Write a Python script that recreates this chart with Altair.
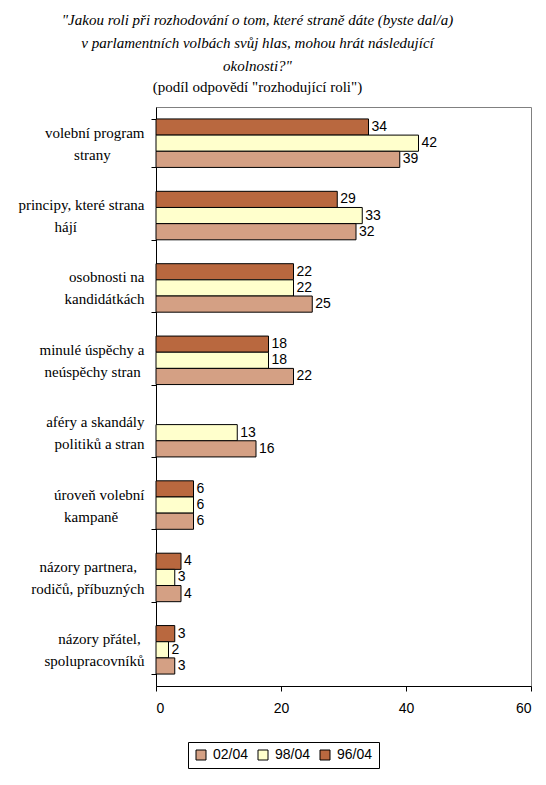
import altair as alt
import pandas as pd

categories = [
    "volební program|strany",
    "principy, které strana|hájí",
    "osobnosti na|kandidátkách",
    "minulé úspěchy a|neúspěchy stran",
    "aféry a skandály|politiků a stran",
    "úroveň volební|kampaně",
    "názory partnera,|rodičů, příbuzných",
    "názory přátel,|spolupracovníků",
]
v96 = [34, 29, 22, 18, None, 6, 4, 3]
v98 = [42, 33, 22, 18, 13, 6, 3, 2]
v02 = [39, 32, 25, 22, 16, 6, 4, 3]

legend_order = ["02/04", "98/04", "96/04"]
bar_order = ["96/04", "98/04", "02/04"]
colors = ["#d4a084", "#ffffcc", "#b9683f"]
x_ticks = [0, 20, 40, 60]

title_lines = [
    "\"Jakou roli při rozhodování o tom, které straně dáte (byste dal/a)",
    "v parlamentních volbách svůj hlas, mohou hrát následující",
    "okolnosti?\"",
]
subtitle = "(podíl odpovědí \"rozhodující roli\")"

rows = []
for c, a, b, d in zip(categories, v96, v98, v02):
    for s, v in (("96/04", a), ("98/04", b), ("02/04", d)):
        if v is not None:
            rows.append({"cat": c, "series": s, "value": v})
df = pd.DataFrame(rows)

# trailing non-breaking spaces (closed by a zero-width space so they are not trimmed)
# centre the shorter line of each wrapped label inside its block
NB = "\u00a0" * 30
ZW = "\u200b"
lab = "split(datum.value,'|')"
label_expr = (
    f"isValid(datum.value) && indexof(datum.value, '|') >= 0 ? "
    f"[{lab}[0] + substring('{NB}', 0, max(0, length({lab}[1]) - length({lab}[0]))) + '{ZW}', "
    f"{lab}[1] + substring('{NB}', 0, max(0, length({lab}[0]) - length({lab}[1]))) + '{ZW}'] : ''"
)

base = alt.Chart(df).encode(
    y=alt.Y(
        "cat:N",
        sort=categories,
        scale=alt.Scale(paddingInner=0.33, paddingOuter=0.165),
        axis=alt.Axis(
            title=None,
            labelExpr=label_expr,
            labelFont="Liberation Serif",
            labelFontSize=15,
            labelColor="black",
            labelAlign="right",
            labelBaseline="middle",
            labelLineHeight=22,
            labelOffset=-11,
            labelPadding=7,
            labelLimit=300,
            tickSize=5,
            tickColor="black",
            tickBand="extent",
            domainColor="black",
            grid=False,
        ),
    ),
    yOffset=alt.YOffset(
        "series:N", sort=bar_order, scale=alt.Scale(paddingInner=0, paddingOuter=0)
    ),
    x=alt.X(
        "value:Q",
        scale=alt.Scale(domain=[0, 60]),
        axis=alt.Axis(
            title=None,
            values=x_ticks,
            labelFont="Liberation Sans",
            labelFontSize=14,
            labelColor="black",
            labelPadding=10,
            tickSize=5,
            tickColor="black",
            domainColor="black",
            grid=False,
        ),
    ),
)

bars = base.mark_bar(stroke="black", strokeWidth=1).encode(
    color=alt.Color(
        "series:N",
        scale=alt.Scale(domain=legend_order, range=colors),
        legend=alt.Legend(
            title=None,
            orient="none",
            legendX=32,
            legendY=635,
            direction="horizontal",
            strokeColor="black",
            padding=6,
            symbolType="square",
            symbolSize=100,
            symbolStrokeColor="black",
            symbolStrokeWidth=1,
            labelFont="Liberation Sans",
            labelFontSize=14,
            labelColor="black",
            columnPadding=7,
            labelOffset=5,
        ),
    )
)

labels = base.mark_text(
    align="left", baseline="middle", dx=3, font="Liberation Sans", fontSize=14, color="black"
).encode(text="value:Q")

chart = (
    alt.layer(bars, labels)
    .properties(
        width=375,
        height=579,
        padding={"left": 148, "top": 99, "right": 7, "bottom": 85},
        autosize=alt.AutoSizeParams(type="none"),
        title=alt.TitleParams(
            text=title_lines,
            subtitle=subtitle,
            font="Liberation Serif",
            fontSize=15,
            fontStyle="italic",
            fontWeight="normal",
            lineHeight=23,
            color="black",
            subtitleFont="Liberation Serif",
            subtitleFontSize=15,
            subtitleFontStyle="normal",
            subtitleColor="black",
            subtitleLineHeight=22,
            subtitlePadding=6,
            anchor="middle",
            offset=5,
            dx=-86,
        ),
    )
    .configure_view(stroke="#808080", strokeWidth=1)
)

chart.save("out.html", embed_options={"renderer": "svg", "actions": False})
